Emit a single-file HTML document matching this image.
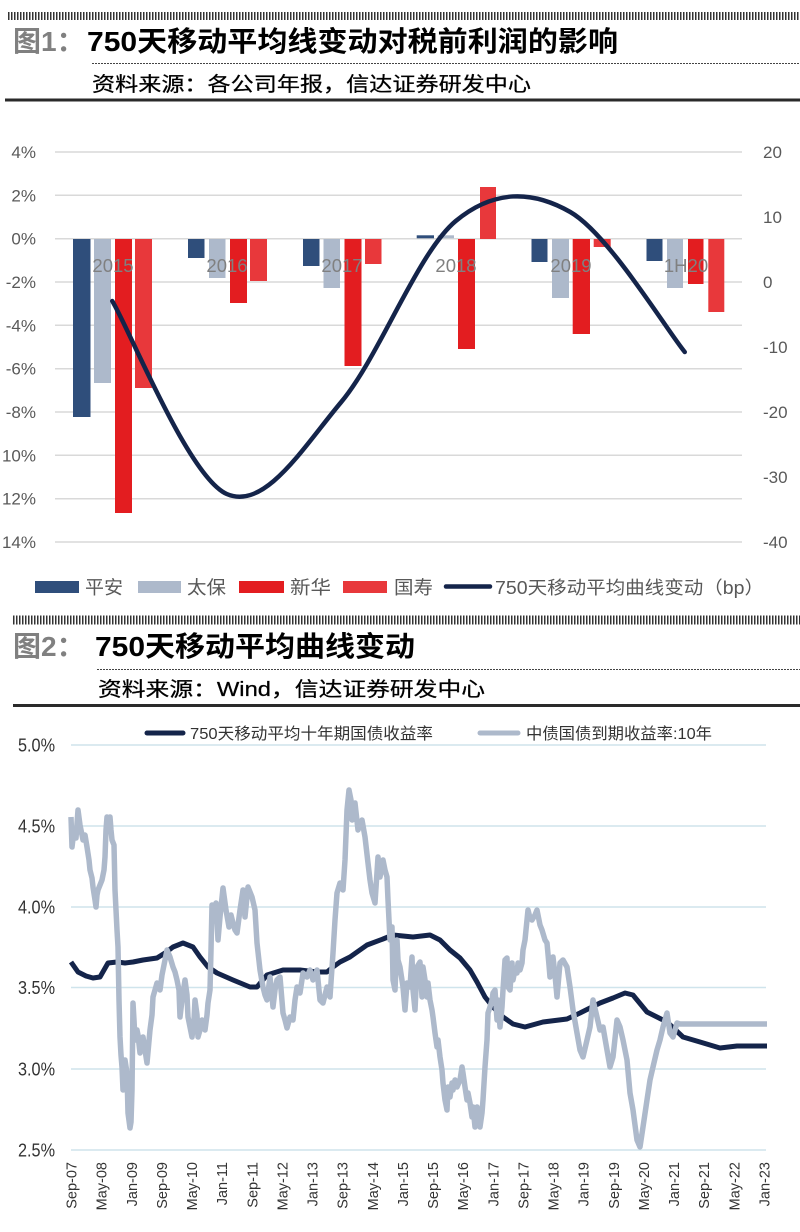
<!DOCTYPE html>
<html><head><meta charset="utf-8"><style>
html,body{margin:0;padding:0;background:#fff;}
svg{display:block;}
text{font-family:"Liberation Sans","Noto Sans CJK SC",sans-serif;}
</style></head><body>
<svg width="800" height="1232" viewBox="0 0 800 1232" xmlns="http://www.w3.org/2000/svg">
<rect width="800" height="1232" fill="#fff"/>
<!-- Header 1 -->
<line x1="8" y1="16" x2="800" y2="16" stroke="#333" stroke-width="8" stroke-dasharray="1.5 1.5"/>
<text x="13" y="51" font-size="28" font-weight="bold" fill="#808080">图1：</text>
<text x="87" y="51" font-size="28" font-weight="bold" fill="#000" textLength="531" lengthAdjust="spacingAndGlyphs">750天移动平均线变动对税前利润的影响</text>
<line x1="92" y1="63.5" x2="800" y2="63.5" stroke="#444" stroke-width="1" stroke-dasharray="2 1"/>
<text x="92" y="91" font-size="20" fill="#000" stroke="#000" stroke-width="0.25" textLength="439" lengthAdjust="spacingAndGlyphs">资料来源：各公司年报，信达证券研发中心</text>
<line x1="5" y1="100" x2="800" y2="100" stroke="#2a2a2a" stroke-width="3"/>

<!-- Chart 1 gridlines -->
<g stroke="#d9d9d9" stroke-width="1.5">
<line x1="55" y1="152" x2="742" y2="152"/>
<line x1="55" y1="195.3" x2="742" y2="195.3"/>
<line x1="55" y1="238.7" x2="742" y2="238.7"/>
<line x1="55" y1="282" x2="742" y2="282"/>
<line x1="55" y1="325.3" x2="742" y2="325.3"/>
<line x1="55" y1="368.7" x2="742" y2="368.7"/>
<line x1="55" y1="412" x2="742" y2="412"/>
<line x1="55" y1="455.3" x2="742" y2="455.3"/>
<line x1="55" y1="498.7" x2="742" y2="498.7"/>
<line x1="55" y1="542" x2="742" y2="542"/>
</g>
<g font-size="17" fill="#595959" text-anchor="end">
<text x="36" y="158">4%</text>
<text x="36" y="201.3">2%</text>
<text x="36" y="244.7">0%</text>
<text x="36" y="288">-2%</text>
<text x="36" y="331.3">-4%</text>
<text x="36" y="374.7">-6%</text>
<text x="36" y="418">-8%</text>
<text x="36" y="461.3">10%</text>
<text x="36" y="504.7">12%</text>
<text x="36" y="548">14%</text>
</g>
<g font-size="17" fill="#595959">
<text x="763" y="158">20</text>
<text x="763" y="223">10</text>
<text x="763" y="288">0</text>
<text x="763" y="353">-10</text>
<text x="763" y="418">-20</text>
<text x="763" y="483">-30</text>
<text x="763" y="548">-40</text>
</g>
<!-- Bars -->
<g>
<rect x="73" y="239" width="17.5" height="178" fill="#2f4e7b"/>
<rect x="94" y="239" width="17" height="144" fill="#adb9cb"/>
<rect x="115" y="239" width="17" height="274" fill="#e31d20"/>
<rect x="135" y="239" width="17" height="149" fill="#e8383b"/>
<rect x="188" y="239" width="16.5" height="19" fill="#2f4e7b"/>
<rect x="209" y="239" width="16.5" height="39" fill="#adb9cb"/>
<rect x="230" y="239" width="17" height="64" fill="#e31d20"/>
<rect x="250" y="239" width="17" height="42" fill="#e8383b"/>
<rect x="303" y="239" width="16.5" height="27" fill="#2f4e7b"/>
<rect x="323.5" y="239" width="16.5" height="49" fill="#adb9cb"/>
<rect x="344.5" y="239" width="17" height="127" fill="#e31d20"/>
<rect x="365" y="239" width="16.5" height="25" fill="#e8383b"/>
<rect x="416.7" y="235.3" width="17.3" height="3" fill="#2f4e7b"/>
<rect x="437.7" y="235.3" width="16.3" height="3" fill="#adb9cb"/>
<rect x="458" y="239" width="17" height="110" fill="#e31d20"/>
<rect x="480" y="187" width="16" height="52" fill="#e8383b"/>
<rect x="531.5" y="239" width="16" height="23" fill="#2f4e7b"/>
<rect x="552" y="239" width="17" height="59" fill="#adb9cb"/>
<rect x="572.7" y="239" width="17.3" height="95" fill="#e31d20"/>
<rect x="593.7" y="239" width="17" height="8" fill="#e8383b"/>
<rect x="646.5" y="239" width="16" height="22" fill="#2f4e7b"/>
<rect x="667" y="239" width="16" height="49" fill="#adb9cb"/>
<rect x="688" y="239" width="15.5" height="45" fill="#e31d20"/>
<rect x="708.3" y="239" width="16" height="73" fill="#e8383b"/>
</g>
<g font-size="18.5" fill="#808080" text-anchor="middle">
<text x="113" y="272">2015</text>
<text x="227" y="272">2016</text>
<text x="342" y="272">2017</text>
<text x="456" y="272">2018</text>
<text x="571" y="272">2019</text>
<text x="686" y="272">1H20</text>
</g>
<path d="M112.25,301 C131.33,333.17 188.58,477.17 226.75,494 C264.92,510.83 303.08,447.5 341.25,402 C379.42,356.5 417.58,252.67 455.75,221 C493.92,189.33 532.08,190.17 570.25,212 C608.42,233.83 665.67,328.67 684.75,352" fill="none" stroke="#14244a" stroke-width="4.5" stroke-linecap="round"/>
<!-- Legend 1 -->
<rect x="35" y="581" width="44" height="12" fill="#2f4e7b"/>
<text x="85" y="594" font-size="18.5" fill="#595959" textLength="38" lengthAdjust="spacingAndGlyphs">平安</text>
<rect x="138" y="581" width="43" height="12" fill="#adb9cb"/>
<text x="187" y="594" font-size="18.5" fill="#595959" textLength="39" lengthAdjust="spacingAndGlyphs">太保</text>
<rect x="239" y="581" width="45" height="12" fill="#e31d20"/>
<text x="290" y="594" font-size="18.5" fill="#595959" textLength="41" lengthAdjust="spacingAndGlyphs">新华</text>
<rect x="343" y="581" width="44" height="12" fill="#e8383b"/>
<text x="394" y="594" font-size="18.5" fill="#595959" textLength="39" lengthAdjust="spacingAndGlyphs">国寿</text>
<line x1="446" y1="586.5" x2="490" y2="586.5" stroke="#14244a" stroke-width="4.5" stroke-linecap="round"/>
<text x="495" y="594" font-size="18" fill="#595959" textLength="269" lengthAdjust="spacingAndGlyphs">750天移动平均曲线变动（bp）</text>

<!-- Header 2 -->
<line x1="13" y1="620" x2="800" y2="620" stroke="#333" stroke-width="9" stroke-dasharray="1.5 1.5"/>
<text x="13" y="656" font-size="28" font-weight="bold" fill="#808080">图2：</text>
<text x="95" y="656" font-size="28" font-weight="bold" fill="#000" textLength="320" lengthAdjust="spacingAndGlyphs">750天移动平均曲线变动</text>
<line x1="97" y1="669.5" x2="800" y2="669.5" stroke="#444" stroke-width="1" stroke-dasharray="2 1"/>
<text x="98" y="696" font-size="20" fill="#000" stroke="#000" stroke-width="0.25" textLength="387" lengthAdjust="spacingAndGlyphs">资料来源：Wind，信达证券研发中心</text>
<line x1="13" y1="705.5" x2="800" y2="705.5" stroke="#2a2a2a" stroke-width="3"/>

<!-- Chart 2 -->
<g stroke="#cfe4ec" stroke-width="1.5">
<line x1="71" y1="745" x2="766" y2="745"/>
<line x1="71" y1="826" x2="766" y2="826"/>
<line x1="71" y1="907" x2="766" y2="907"/>
<line x1="71" y1="987.5" x2="766" y2="987.5"/>
<line x1="71" y1="1069" x2="766" y2="1069"/>
<line x1="71" y1="1150" x2="766" y2="1150"/>
</g>
<g font-size="18" fill="#333" text-anchor="end">
<text x="55" y="751.5" textLength="37" lengthAdjust="spacingAndGlyphs">5.0%</text>
<text x="55" y="832.5" textLength="37" lengthAdjust="spacingAndGlyphs">4.5%</text>
<text x="55" y="913.5" textLength="37" lengthAdjust="spacingAndGlyphs">4.0%</text>
<text x="55" y="994" textLength="37" lengthAdjust="spacingAndGlyphs">3.5%</text>
<text x="55" y="1075.5" textLength="37" lengthAdjust="spacingAndGlyphs">3.0%</text>
<text x="55" y="1156.5" textLength="37" lengthAdjust="spacingAndGlyphs">2.5%</text>
</g>
<!-- Legend 2 -->
<line x1="147" y1="733" x2="183" y2="733" stroke="#14244a" stroke-width="5" stroke-linecap="round"/>
<text x="190" y="739" font-size="16" fill="#333" textLength="243" lengthAdjust="spacingAndGlyphs">750天移动平均十年期国债收益率</text>
<line x1="480" y1="733" x2="518" y2="733" stroke="#adb9cb" stroke-width="5" stroke-linecap="round"/>
<text x="526" y="739" font-size="16" fill="#333" textLength="186" lengthAdjust="spacingAndGlyphs">中债国债到期收益率:10年</text>

<!-- 750-day MA -->
<polyline fill="none" stroke="#14244a" stroke-width="5" stroke-linejoin="round" points="71,962 78,972 86,976 93,978 100,977 108,963 117,962 125,963 133,962 143,960 157,958 165,953 173,947 183,943 193,947 200,957 208,967 217,973 233,980 250,987 257,987 267,975 283,970 300,970 317,972 327,972 333,967 340,962 350,957 367,945 383,939 393,935 413,937 430,935 440,940 450,950 460,958 470,970 477,982 485,997 493,1007 503,1017 513,1024 525,1027 543,1022 567,1019 580,1013 600,1003 613,998 625,993 633,995 647,1012 667,1022 683,1037 700,1042 720,1048 737,1046 767,1046"/>
<!-- 10Y yield -->
<polyline fill="none" stroke="#adb9cb" stroke-width="5.5" stroke-linejoin="round" points="71,817 72,847 74,830 76,838 78,810 80,825 83,840 85,835 87,847 89,860 90,870 92,878 93,887 95,900 96,907 97,895 98,890 100,885 102,880 104,870 105,857 106,830 107,817 109,820 110,817 111,830 112,840 114,845 115,890 117,930 118,947 119,1000 120,1037 121,1055 122,1067 123,1090 125,1060 127,1073 128,1113 130,1128 131,1122 132,1090 133,1003 134,1020 135,1040 137,1030 138,1035 140,1053 142,1040 143,1037 145,1050 147,1063 150,1030 152,1015 153,997 155,990 157,983 160,990 162,975 163,970 165,960 167,950 170,957 173,967 175,972 177,980 179,990 180,1017 182,1000 185,980 187,995 188,1017 190,1027 192,1037 194,1020 195,1000 197,1015 198,1037 200,1030 202,1020 205,1030 207,1015 208,1003 210,990 211,950 212,905 214,910 216,903 218,940 220,917 223,888 226,910 229,927 231,915 233,923 235,930 237,933 240,910 243,890 245,917 248,887 252,897 255,910 257,943 260,970 263,987 265,995 267,1000 270,977 273,1007 275,990 277,980 280,977 283,1013 285,1020 287,1028 290,1017 293,1020 295,1000 297,987 300,993 303,973 307,977 310,970 313,980 317,970 320,1000 323,1003 327,987 330,997 333,953 335,920 337,893 340,883 343,890 345,860 347,810 349,790 351,800 352,820 355,803 358,830 362,820 365,837 368,863 370,880 372,893 375,903 378,857 380,877 383,860 385,870 387,877 388,900 390,940 392,927 393,980 395,990 397,940 398,960 400,967 403,987 405,1010 407,983 410,987 412,957 413,990 415,1010 417,967 420,962 422,997 423,967 425,980 427,997 428,983 430,1000 432,1010 433,1017 435,1033 437,1047 438,1040 440,1057 442,1070 443,1083 445,1100 447,1110 448,1087 450,1097 452,1083 453,1090 455,1080 457,1087 460,1080 462,1067 463,1073 465,1087 467,1100 468,1093 470,1103 472,1117 473,1107 475,1127 477,1107 478,1113 480,1127 482,1113 483,1100 485,1067 487,1040 488,1013 490,1007 492,1000 493,993 495,990 497,1020 498,1000 500,1027 502,1007 503,990 505,960 507,958 508,987 510,990 512,963 513,980 515,970 517,973 518,963 520,970 522,963 523,950 525,940 527,920 528,910 530,918 532,920 535,915 537,910 540,925 542,930 545,940 547,943 549,965 550,977 553,957 555,975 557,997 560,963 563,960 567,967 570,987 573,1010 577,1033 580,1050 583,1057 587,1040 590,1027 593,1000 597,1017 600,1030 603,1027 607,1050 610,1067 613,1057 617,1020 620,1027 623,1040 627,1060 630,1093 633,1110 637,1140 640,1147 643,1127 647,1100 650,1080 653,1067 657,1050 660,1040 663,1027 667,1013 670,1033 673,1037 677,1023 680,1024 767,1024"/>
<!-- X labels -->
<g font-size="14.5" fill="#333" text-anchor="end">
<text transform="translate(76.5,1162) rotate(-90)">Sep-07</text>
<text transform="translate(106.6,1162) rotate(-90)">May-08</text>
<text transform="translate(136.8,1162) rotate(-90)">Jan-09</text>
<text transform="translate(166.9,1162) rotate(-90)">Sep-09</text>
<text transform="translate(197.0,1162) rotate(-90)">May-10</text>
<text transform="translate(227.2,1162) rotate(-90)">Jan-11</text>
<text transform="translate(257.3,1162) rotate(-90)">Sep-11</text>
<text transform="translate(287.4,1162) rotate(-90)">May-12</text>
<text transform="translate(317.5,1162) rotate(-90)">Jan-13</text>
<text transform="translate(347.7,1162) rotate(-90)">Sep-13</text>
<text transform="translate(377.8,1162) rotate(-90)">May-14</text>
<text transform="translate(407.9,1162) rotate(-90)">Jan-15</text>
<text transform="translate(438.1,1162) rotate(-90)">Sep-15</text>
<text transform="translate(468.2,1162) rotate(-90)">May-16</text>
<text transform="translate(498.3,1162) rotate(-90)">Jan-17</text>
<text transform="translate(528.5,1162) rotate(-90)">Sep-17</text>
<text transform="translate(558.6,1162) rotate(-90)">May-18</text>
<text transform="translate(588.7,1162) rotate(-90)">Jan-19</text>
<text transform="translate(618.8,1162) rotate(-90)">Sep-19</text>
<text transform="translate(649.0,1162) rotate(-90)">May-20</text>
<text transform="translate(679.1,1162) rotate(-90)">Jan-21</text>
<text transform="translate(709.2,1162) rotate(-90)">Sep-21</text>
<text transform="translate(739.4,1162) rotate(-90)">May-22</text>
<text transform="translate(769.5,1162) rotate(-90)">Jan-23</text>
</g>
</svg>
</body></html>
